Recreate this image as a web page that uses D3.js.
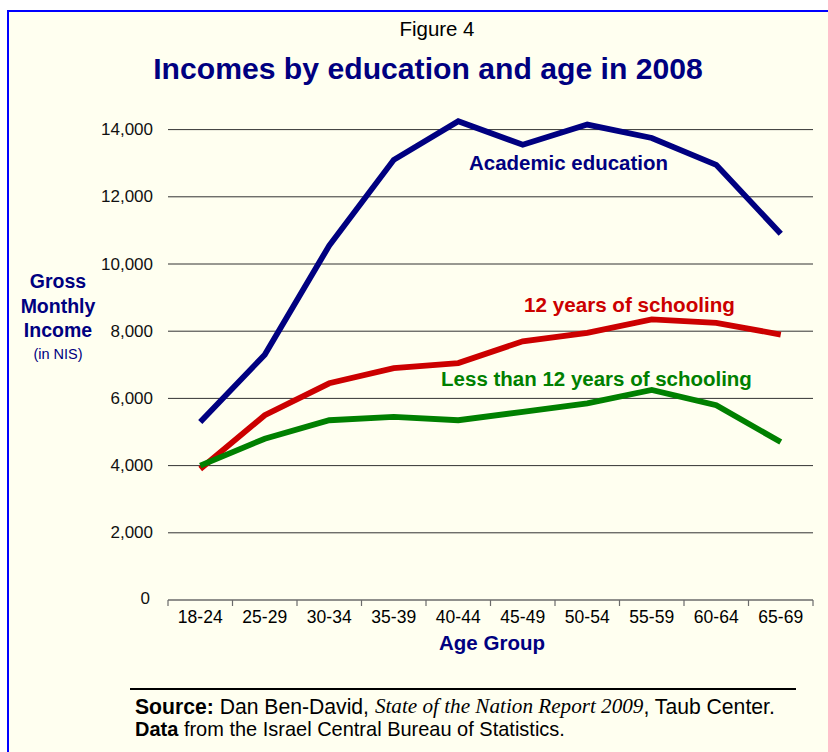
<!DOCTYPE html>
<html>
<head>
<meta charset="utf-8">
<script src="https://cdn.jsdelivr.net/npm/d3@7/dist/d3.min.js"></script>
<style>
  html, body { margin: 0; padding: 0; background: #ffffff; }
  svg { display: block; }
</style>
</head>
<body>
<svg id="chart" width="828" height="752"></svg>
<script>
// Age groups along the x axis
const ageGroups = ["18-24", "25-29", "30-34", "35-39", "40-44", "45-49", "50-54", "55-59", "60-64", "65-69"];

// Gross monthly income (NIS) by education level
const academic = [5300, 7300, 10550, 13100, 14250, 13550, 14150, 13750, 12950, 10900];
const twelveYears = [3900, 5500, 6450, 6900, 7050, 7700, 7950, 8350, 8250, 7900];
const lessThanTwelve = [4000, 4800, 5350, 5450, 5350, 5600, 5850, 6250, 5800, 4700];

// Y axis tick values
const yTicks = [0, 2000, 4000, 6000, 8000, 10000, 12000, 14000];

const seriesNames = ["Academic education", "12 years of schooling", "Less than 12 years of schooling"];
const seriesColors = ["#000080", "#cc0000", "#008000"];

const SANS = "Liberation Sans, Arial, Helvetica, sans-serif";
const SERIF = "Liberation Serif, Times New Roman, serif";

const svg = d3.select("#chart");
const navy = "#000080";

// Scale a text element's font size so it spans the given width
function fitWidth(sel, width) {
  const node = sel.node();
  const size = parseFloat(sel.attr("font-size"));
  const w = node.getComputedTextLength();
  if (w > 0) sel.attr("font-size", size * width / w);
  return sel;
}

// Background panel with blue frame
svg.append("rect").attr("x", 0).attr("y", 0).attr("width", 828).attr("height", 752).attr("fill", "#ffffff");
svg.append("rect")
  .attr("x", 8).attr("y", 11).attr("width", 840).attr("height", 760)
  .attr("fill", "#fffff0").attr("stroke", "#0000ff").attr("stroke-width", 2);

// Plot geometry
const plotLeft = 168, plotRight = 813, plotBottom = 600, plotTop = 96;

const x = d3.scaleBand().domain(ageGroups).range([plotLeft, plotRight]).padding(0);
const y = d3.scaleLinear().domain([0, 15000]).range([plotBottom, plotTop]);

// Horizontal gridlines
svg.append("g").selectAll("line")
  .data(yTicks.filter(d => d > 0))
  .join("line")
  .attr("x1", plotLeft).attr("x2", plotRight)
  .attr("y1", d => y(d)).attr("y2", d => y(d))
  .attr("stroke", "#333333").attr("stroke-width", 1);

// Y tick labels
const fmt = d3.format(",");
svg.append("g").selectAll("text")
  .data(yTicks)
  .join("text")
  .attr("x", d => d === 0 ? 150 : 153)
  .attr("y", d => y(d) + (d === 0 ? -2 : 0))
  .attr("text-anchor", "end")
  .attr("dominant-baseline", "central")
  .attr("font-family", SANS)
  .attr("font-size", 17)
  .attr("fill", "#111")
  .text(d => fmt(d));

// X axis: baseline, ticks between categories, category labels
svg.append("line")
  .attr("x1", plotLeft).attr("x2", plotRight).attr("y1", plotBottom).attr("y2", plotBottom)
  .attr("stroke", "#6b6b6b").attr("stroke-width", 1.5);
const bounds = ageGroups.map(d => x(d)).concat([plotRight]);
svg.append("g").selectAll("line")
  .data(bounds)
  .join("line")
  .attr("x1", d => d).attr("x2", d => d)
  .attr("y1", plotBottom).attr("y2", plotBottom + 6)
  .attr("stroke", "#6b6b6b").attr("stroke-width", 1.2);
svg.append("g").selectAll("text")
  .data(ageGroups)
  .join("text")
  .attr("x", d => x(d) + x.bandwidth() / 2)
  .attr("y", 617)
  .attr("text-anchor", "middle")
  .attr("dominant-baseline", "central")
  .attr("font-family", SANS)
  .attr("font-size", 17.5)
  .attr("fill", "#000")
  .text(d => d);

// Lines
const line = d3.line()
  .x((d, i) => x(ageGroups[i]) + x.bandwidth() / 2)
  .y(d => y(d));
[academic, twelveYears, lessThanTwelve].forEach((vals, i) => {
  svg.append("path")
    .datum(vals)
    .attr("d", line)
    .attr("fill", "none")
    .attr("stroke", seriesColors[i])
    .attr("stroke-width", 5.8)
    .attr("stroke-linejoin", "miter");
});

// Series labels: [centre x, centre y, width]
const labelPos = [[568.5, 162, 199], [629.5, 304, 211], [596.5, 378, 311]];
seriesNames.forEach((name, i) => {
  const t = svg.append("text")
    .attr("x", labelPos[i][0]).attr("y", labelPos[i][1])
    .attr("text-anchor", "middle")
    .attr("dominant-baseline", "central")
    .attr("font-family", SANS)
    .attr("font-weight", "bold")
    .attr("font-size", 20)
    .attr("fill", seriesColors[i])
    .text(name);
  fitWidth(t, labelPos[i][2]);
});

// Titles
fitWidth(svg.append("text")
  .attr("x", 437).attr("y", 28)
  .attr("text-anchor", "middle").attr("dominant-baseline", "central")
  .attr("font-family", SANS)
  .attr("font-size", 20).attr("fill", "#000")
  .text("Figure 4"), 75);
fitWidth(svg.append("text")
  .attr("x", 428).attr("y", 68)
  .attr("text-anchor", "middle").attr("dominant-baseline", "central")
  .attr("font-family", SANS)
  .attr("font-weight", "bold")
  .attr("font-size", 30).attr("fill", navy)
  .text("Incomes by education and age in 2008"), 550);

// Y axis title
const yTitle = svg.append("g").attr("font-family", SANS).attr("fill", navy).attr("text-anchor", "middle");
["Gross", "Monthly", "Income"].forEach((t, i) => {
  yTitle.append("text")
    .attr("x", 58).attr("y", 281 + i * 24.5)
    .attr("dominant-baseline", "central")
    .attr("font-weight", "bold").attr("font-size", 19.5)
    .text(t);
});
yTitle.append("text")
  .attr("x", 58).attr("y", 354)
  .attr("dominant-baseline", "central")
  .attr("font-size", 14.5)
  .text("(in NIS)");

// X axis title
fitWidth(svg.append("text")
  .attr("x", 492).attr("y", 642)
  .attr("text-anchor", "middle").attr("dominant-baseline", "central")
  .attr("font-family", SANS)
  .attr("font-weight", "bold")
  .attr("font-size", 20).attr("fill", navy)
  .text("Age Group"), 106);

// Source note
svg.append("line")
  .attr("x1", 130).attr("x2", 796).attr("y1", 689).attr("y2", 689)
  .attr("stroke", "#000").attr("stroke-width", 2);
const src1 = svg.append("text")
  .attr("x", 135).attr("y", 706)
  .attr("dominant-baseline", "central")
  .attr("font-family", SANS)
  .attr("font-size", 17).attr("fill", "#000");
src1.append("tspan").attr("font-weight", "bold").text("Source:");
src1.append("tspan").text(" Dan Ben-David, ");
src1.append("tspan").attr("font-family", SERIF).attr("font-style", "italic").text("State of the Nation Report 2009");
src1.append("tspan").text(", Taub Center.");
fitWidth(src1, 640);
const src2 = svg.append("text")
  .attr("x", 135).attr("y", 729)
  .attr("dominant-baseline", "central")
  .attr("font-family", SANS)
  .attr("font-size", 17).attr("fill", "#000");
src2.append("tspan").attr("font-weight", "bold").text("Data");
src2.append("tspan").text(" from the Israel Central Bureau of Statistics.");
fitWidth(src2, 430);
</script>
</body>
</html>
